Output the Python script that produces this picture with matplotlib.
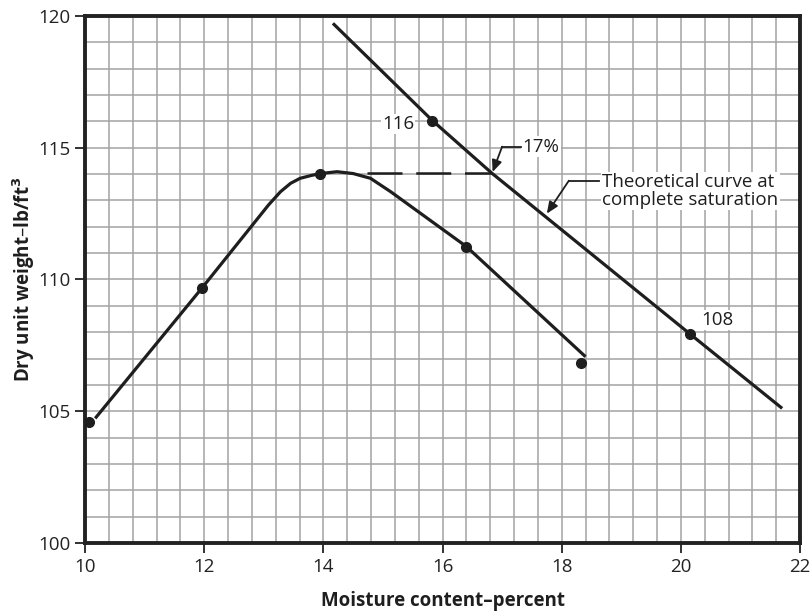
import matplotlib
matplotlib.use("Agg")
import matplotlib.pyplot as plt
from matplotlib.ticker import MultipleLocator

plt.rcParams["font.family"] = ["Open Sans", "DejaVu Sans"]

# compaction test points (moisture %, dry unit weight lb/ft3)
test_w = [10.07, 11.96, 13.95, 16.40, 18.33]
test_gd = [104.6, 109.67, 114.0, 111.25, 106.84]

# drawn compaction curve
curve_w = [10.17, 11.96, 13.08, 13.28, 13.45, 13.61, 13.80, 13.95, 14.23, 14.50, 14.79, 15.13, 16.40, 18.40]
curve_gd = [104.73, 109.67, 112.83, 113.33, 113.65, 113.84, 113.95, 114.02, 114.09, 114.02, 113.84, 113.33, 111.25, 107.07]

# zero air voids (complete saturation) curve
sat_w = [14.16, 15.83, 16.83, 20.16, 21.70]
sat_gd = [119.72, 116.03, 114.03, 107.92, 105.11]
sat_pts_w = [15.83, 20.16]
sat_pts_gd = [116.03, 107.92]
sat_labels = ["116", "108"]

# optimum moisture dashed line
opt_w = [14.73, 16.83]
opt_gd = [114.03, 114.03]

fs = 13.5
fig = plt.figure(figsize=(8.1, 6.14), dpi=100)
ax = fig.add_axes([0.105, 0.1156, 0.8827, 0.8584])

ax.set_xlim(10, 22)
ax.set_ylim(100, 120)
ax.xaxis.set_major_locator(MultipleLocator(2))
ax.xaxis.set_minor_locator(MultipleLocator(0.4))
ax.yaxis.set_major_locator(MultipleLocator(5))
ax.yaxis.set_minor_locator(MultipleLocator(1))
ax.grid(which="both", color="#a3a3a3", linewidth=1.1, zorder=0)
ax.set_axisbelow(True)
ax.tick_params(which="major", direction="out", length=7, width=1.3,
               labelsize=fs, color="#222222", labelcolor="#222222")
ax.tick_params(which="minor", length=0)
for s in ax.spines.values():
    s.set_linewidth(2.8)
    s.set_color("#222222")

ink = "#1e1e1e"
ax.plot(curve_w, curve_gd, color=ink, linewidth=2.3, solid_capstyle="butt",
        solid_joinstyle="round", zorder=3)
ax.plot(test_w, test_gd, "o", color=ink, markersize=7, zorder=4)
ax.plot(sat_w, sat_gd, color=ink, linewidth=2.3, solid_capstyle="butt", zorder=3)
ax.plot(sat_pts_w, sat_pts_gd, "o", color=ink, markersize=7, zorder=4)
ax.plot(opt_w, opt_gd, color=ink, linewidth=1.8, dashes=(14, 5.5), zorder=3)

ax.text(15.52, 115.9, sat_labels[0], ha="right", va="center", fontsize=fs, color=ink,
        bbox=dict(facecolor="white", edgecolor="none", pad=1))
ax.text(20.62, 108.46, sat_labels[1], ha="center", va="center", fontsize=fs, color=ink,
        bbox=dict(facecolor="white", edgecolor="none", pad=1))

# 17% leader
ax.text(17.34, 115.04, "17%", ha="left", va="center", fontsize=fs, color=ink,
        bbox=dict(facecolor="white", edgecolor="none", pad=1))
ax.plot([17.31, 17.0], [115.04, 115.04], color=ink, linewidth=1.3, zorder=3)
ax.annotate("", xy=(16.84, 114.08), xytext=(17.0, 115.04),
            arrowprops=dict(arrowstyle="-|>,head_length=0.7,head_width=0.3",
                            color=ink, linewidth=1.3, shrinkA=0, shrinkB=0))

# saturation curve leader
ax.text(18.68, 113.36, "Theoretical curve at\ncomplete saturation", ha="left", va="center",
        fontsize=fs, color=ink, linespacing=1.0,
        bbox=dict(facecolor="white", edgecolor="none", pad=1))
ax.plot([18.63, 18.12], [113.75, 113.75], color=ink, linewidth=1.3, zorder=3)
ax.annotate("", xy=(17.75, 112.5), xytext=(18.12, 113.75),
            arrowprops=dict(arrowstyle="-|>,head_length=0.7,head_width=0.3",
                            color=ink, linewidth=1.3, shrinkA=0, shrinkB=0))

ax.set_xlabel("Moisture content\u2013percent", fontsize=fs, fontweight="bold", color=ink)
ax.set_ylabel("Dry unit weight\u2013lb/ft$^\\mathbf{3}$", fontsize=fs, fontweight="bold", color=ink)
ax.xaxis.set_label_coords(0.5, -0.11)
ax.yaxis.set_label_coords(-0.086, 0.5)
ax.xaxis.label.set_va("center")
ax.yaxis.label.set_va("center")

fig.savefig("out.png", dpi=100)
